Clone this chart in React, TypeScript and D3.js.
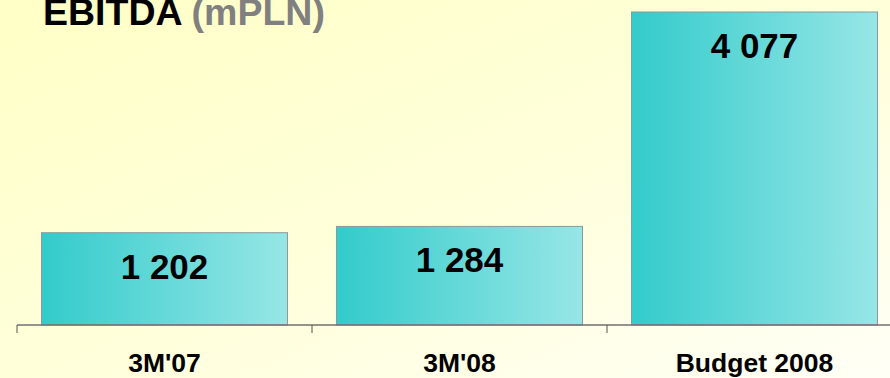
import React from "react";
import * as d3 from "d3";

const categories = ["3M'07", "3M'08", "Budget 2008"];
const values = [1202, 1284, 4077];
const valueLabels = ["1 202", "1 284", "4 077"];
const titleMain = "EBITDA";
const titleUnit = "(mPLN)";

const W = 890;
const H = 378;

export default function App() {
  const x = d3
    .scaleBand<string>()
    .domain(categories)
    .range([17, 902])
    .paddingInner(0.166)
    .paddingOuter(0.083);
  const y = d3.scaleLinear().domain([0, 4077]).range([325, 12]);
  const step = x.step();
  const tickXs = d3.range(categories.length + 1).map((i) => 17 + i * step);
  const font = "'Liberation Sans', Arial, Helvetica, sans-serif";

  return (
    <svg
      width={W}
      height={H}
      style={{ position: "absolute", left: 0, top: 0, display: "block" }}
    >
      <defs>
        <linearGradient id="bg" x1="0" y1="0" x2="1" y2="1">
          <stop offset="0" stopColor="#FFFFC6" />
          <stop offset="0.55" stopColor="#FFFFDC" />
          <stop offset="1" stopColor="#FFFFF6" />
        </linearGradient>
        <linearGradient id="bar" x1="0" y1="0" x2="1" y2="0">
          <stop offset="0" stopColor="#33CBCB" />
          <stop offset="1" stopColor="#97E6E6" />
        </linearGradient>
      </defs>
      <rect x={0} y={0} width={W} height={H} fill="url(#bg)" />
      <text x={43} y={24.5} fontFamily={font} fontWeight="bold" fontSize={37.5}>
        <tspan fill="#000">{titleMain}</tspan>
        <tspan fill="#808080">{" " + titleUnit}</tspan>
      </text>
      {categories.map((c, i) => (
        <g key={c}>
          <rect
            x={x(c)}
            y={y(values[i])}
            width={x.bandwidth()}
            height={y(0) - y(values[i])}
            fill="url(#bar)"
            stroke="#8A9A9A"
            strokeWidth={1}
          />
          <text
            x={(x(c) as number) + x.bandwidth() / 2}
            y={y(values[i]) + 46}
            textAnchor="middle"
            fontFamily={font}
            fontWeight="bold"
            fontSize={35}
            fill="#000"
          >
            {valueLabels[i]}
          </text>
          <text
            x={(x(c) as number) + x.bandwidth() / 2}
            y={372}
            textAnchor="middle"
            fontFamily={font}
            fontWeight="bold"
            fontSize={26.5}
            fill="#000"
          >
            {c}
          </text>
        </g>
      ))}
      <line x1={17} x2={W} y1={325} y2={325} stroke="#707070" strokeWidth={1.5} />
      {tickXs.map((tx, i) => (
        <line key={i} x1={tx} x2={tx} y1={325} y2={333} stroke="#505050" strokeWidth={1} />
      ))}
    </svg>
  );
}
